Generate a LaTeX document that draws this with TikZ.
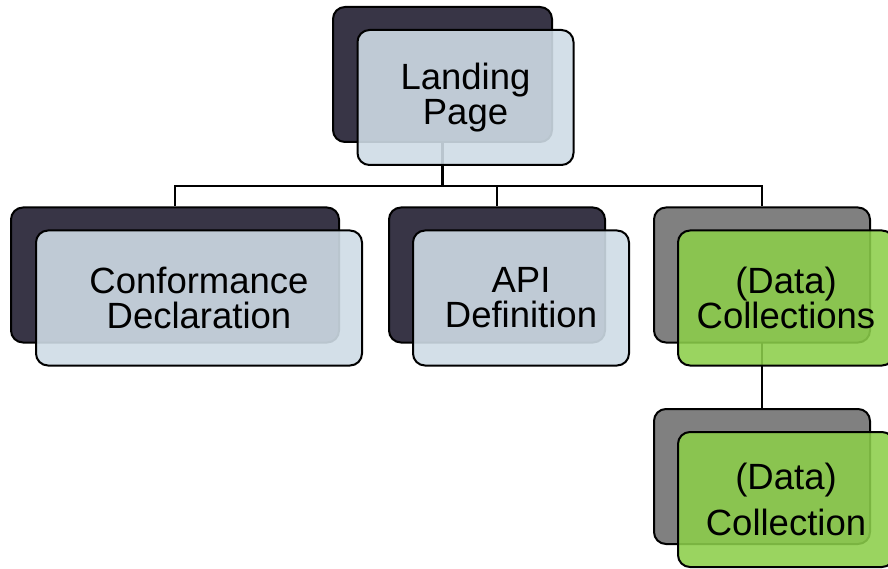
\documentclass[tikz,border=0pt]{standalone}
\usepackage{fontspec}
\setmainfont{Liberation Sans}
\usetikzlibrary{positioning, calc, backgrounds}

\definecolor{slate}{RGB}{56,53,70}
\definecolor{stone}{RGB}{128,128,128}
\definecolor{mist}{RGB}{206,219,229}
\definecolor{leaf}{RGB}{140,206,74}

\tikzset{
	card/.style={rectangle,rounded corners=12pt,draw=black,line width=2pt,inner sep=0pt,minimum width=216pt,minimum height=135pt},
	backcard/.style={card,fill=slate},
	greycard/.style={card,fill=stone},
	frontcard/.style={card,fill=mist,fill opacity=.9,text opacity=1,align=center,font=\fontsize{36.5}{35}\selectfont},
	greencard/.style={frontcard,fill=leaf,fill opacity=.88},
	wire/.style={draw=black,line width=2.2pt}
}

\begin{document}
\begin{tikzpicture}[x=1pt,y=-1pt]
		\useasboundingbox (0,0) rectangle (888,569);
		\clip (0,0) rectangle (888,569);
		
		% back cards
		\node(landingBack) at (442.5,74.5)[backcard,minimum width=219pt]{};
		\node(confBack) at (175,275)[backcard,minimum width=328pt]{};
		\node(apiBack) at (497,275)[backcard]{};
		\node(collsBack) at (762,275)[greycard]{};
		\node(collBack) at (762,476.5)[greycard]{};
		
		% front cards with the labels
		\node(landing) at ($(landingBack)+(23,23)$)[frontcard]{Landing\\Page};
		\node(conf) at ($(confBack)+(24,23)$)[frontcard,minimum width=326pt]{Conformance\\Declaration};
		\node(api) at ($(apiBack)+(24,23)$)[frontcard]{API\\Definition};
		\node(colls) at ($(collsBack)+(24,23)$)[greencard]{(Data)\\Collections};
		\node(coll) at ($(collBack)+(24,23)$)[greencard,font=\fontsize{36.5}{46}\selectfont]{(Data)\\Collection};
		
		\coordinate(bus) at (0,186);
		
		\begin{scope}[on background layer]
			\draw[wire] (landingBack.center) -- (landingBack.center |- bus) -| (confBack.north);
			\draw[wire] (landingBack.center |- bus) -| (apiBack.north);
			\draw[wire] (landingBack.center |- bus) -| (collsBack.north);
			\draw[wire] (collsBack.center) -- (collBack.north);
		\end{scope}
		
	\end{tikzpicture}
\end{document}
